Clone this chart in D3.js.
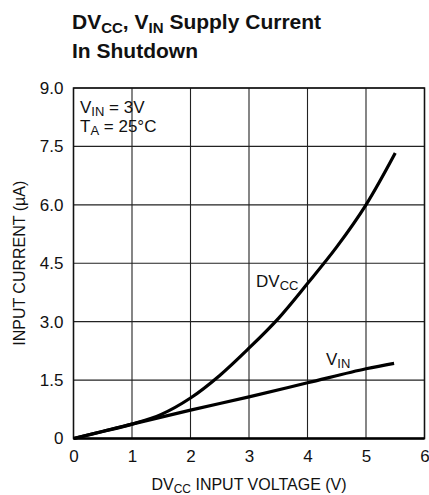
<!DOCTYPE html>
<html>
<head>
<meta charset="utf-8">
<script src="https://cdn.jsdelivr.net/npm/d3@7"></script>
<style>
  body { margin: 0; background: #fff; }
  text { font-family: "Liberation Sans", Arial, sans-serif; fill: #111; }
</style>
</head>
<body>
<div class="canvas"></div>
<script>
// data
const xTicks = [0, 1, 2, 3, 4, 5, 6];
const yTicks = [0, 1.5, 3.0, 4.5, 6.0, 7.5, 9.0];
const yTickLabels = ["0", "1.5", "3.0", "4.5", "6.0", "7.5", "9.0"];

const dvccVolts = [0, 0.5, 1, 1.5, 2, 2.5, 3, 3.5, 4, 4.5, 5, 5.5];
const dvccCurrent = [0, 0.18, 0.37, 0.62, 1.04, 1.62, 2.32, 3.08, 3.98, 4.92, 6.0, 7.33];

const vinVolts = [0, 1, 2, 3, 4, 5, 5.48];
const vinCurrent = [0, 0.37, 0.73, 1.07, 1.43, 1.79, 1.93];

const margin = { top: 88, bottom: 56.5, left: 73.5, right: 5 };
const width = 429;
const height = 495;
const graphWidth = 351;
const graphHeight = height - margin.top - margin.bottom;

const svg = d3
  .select(".canvas")
  .append("svg")
  .attr("width", width)
  .attr("height", height);

// title
const title = svg
  .append("text")
  .attr("x", 72)
  .attr("y", 29)
  .style("font-size", "21px")
  .style("font-weight", "bold");
title.append("tspan").text("DV");
title.append("tspan").attr("dy", 4).style("font-size", "15px").text("CC");
title.append("tspan").attr("dy", -4).text(", V");
title.append("tspan").attr("dy", 4).style("font-size", "15px").text("IN");
title.append("tspan").attr("dy", -4).text(" Supply Current");
svg
  .append("text")
  .attr("x", 72)
  .attr("y", 58)
  .style("font-size", "21px")
  .style("font-weight", "bold")
  .text("In Shutdown");

const graph = svg
  .append("g")
  .attr("transform", `translate(${margin.left},${margin.top})`);

// scales
const x = d3.scaleLinear().domain([0, 6]).range([0, graphWidth]);
const y = d3.scaleLinear().domain([0, 9]).range([graphHeight, 0]);

// grid
graph
  .append("g")
  .selectAll("line")
  .data(xTicks)
  .enter()
  .append("line")
  .attr("x1", (d) => x(d))
  .attr("x2", (d) => x(d))
  .attr("y1", 0)
  .attr("y2", graphHeight)
  .attr("stroke", "#222")
  .attr("stroke-width", 1.1);

graph
  .append("g")
  .selectAll("line")
  .data(yTicks)
  .enter()
  .append("line")
  .attr("x1", 0)
  .attr("x2", graphWidth)
  .attr("y1", (d) => y(d))
  .attr("y2", (d) => y(d))
  .attr("stroke", "#222")
  .attr("stroke-width", 1.1);

// frame
graph
  .append("rect")
  .attr("width", graphWidth)
  .attr("height", graphHeight)
  .attr("fill", "none")
  .attr("stroke", "#111")
  .attr("stroke-width", 1.5);
graph
  .append("line")
  .attr("x1", 0)
  .attr("x2", graphWidth)
  .attr("y1", graphHeight)
  .attr("y2", graphHeight)
  .attr("stroke", "#000")
  .attr("stroke-width", 2.5);

// axes
const xAxis = d3
  .axisBottom(x)
  .tickValues(xTicks)
  .tickSize(0)
  .tickPadding(11)
  .tickFormat(d3.format("d"));
const yAxis = d3
  .axisLeft(y)
  .tickValues(yTicks)
  .tickSize(0)
  .tickPadding(10)
  .tickFormat((d, i) => yTickLabels[i]);

const xAxisGroup = graph
  .append("g")
  .attr("transform", `translate(0,${graphHeight})`)
  .call(xAxis);
const yAxisGroup = graph.append("g").call(yAxis);

[xAxisGroup, yAxisGroup].forEach((g) => {
  g.select(".domain").remove();
  g.selectAll("text")
    .style("font-family", '"Liberation Sans", Arial, sans-serif')
    .style("font-size", "17px")
    .attr("fill", "#111");
});

// axis titles
const xTitle = svg
  .append("text")
  .attr("x", margin.left + graphWidth / 2)
  .attr("y", 490)
  .attr("text-anchor", "middle")
  .style("font-size", "16px");
xTitle.append("tspan").text("DV");
xTitle.append("tspan").attr("dy", 3).style("font-size", "12px").text("CC");
xTitle.append("tspan").attr("dy", -3).text(" INPUT VOLTAGE (V)");

svg
  .append("text")
  .attr("transform", `translate(25,${margin.top + graphHeight / 2}) rotate(-90)`)
  .attr("text-anchor", "middle")
  .style("font-size", "16px")
  .text("INPUT CURRENT (\u00b5A)");

// lines
const line = d3
  .line()
  .x((d) => x(d[0]))
  .y((d) => y(d[1]))
  .curve(d3.curveCatmullRom);

graph
  .append("path")
  .datum(d3.zip(dvccVolts, dvccCurrent))
  .attr("fill", "none")
  .attr("stroke", "#000")
  .attr("stroke-width", 3.2)
  .attr("d", line);

graph
  .append("path")
  .datum(d3.zip(vinVolts, vinCurrent))
  .attr("fill", "none")
  .attr("stroke", "#000")
  .attr("stroke-width", 3.2)
  .attr("d", line);

// annotations
const note1 = svg.append("text").attr("x", 80).attr("y", 113).style("font-size", "17px");
note1.append("tspan").text("V");
note1.append("tspan").attr("dy", 3).style("font-size", "13px").text("IN");
note1.append("tspan").attr("dy", -3).text(" = 3V");

const note2 = svg.append("text").attr("x", 80).attr("y", 132).style("font-size", "17px");
note2.append("tspan").text("T");
note2.append("tspan").attr("dy", 3).style("font-size", "13px").text("A");
note2.append("tspan").attr("dy", -3).text(" = 25\u00b0C");

const lab1 = svg.append("text").attr("x", 256).attr("y", 287).style("font-size", "17px");
lab1.append("tspan").text("DV");
lab1.append("tspan").attr("dy", 3).style("font-size", "13px").text("CC");

const lab2 = svg.append("text").attr("x", 326).attr("y", 365).style("font-size", "17px");
lab2.append("tspan").text("V");
lab2.append("tspan").attr("dy", 3).style("font-size", "13px").text("IN");
</script>
</body>
</html>
